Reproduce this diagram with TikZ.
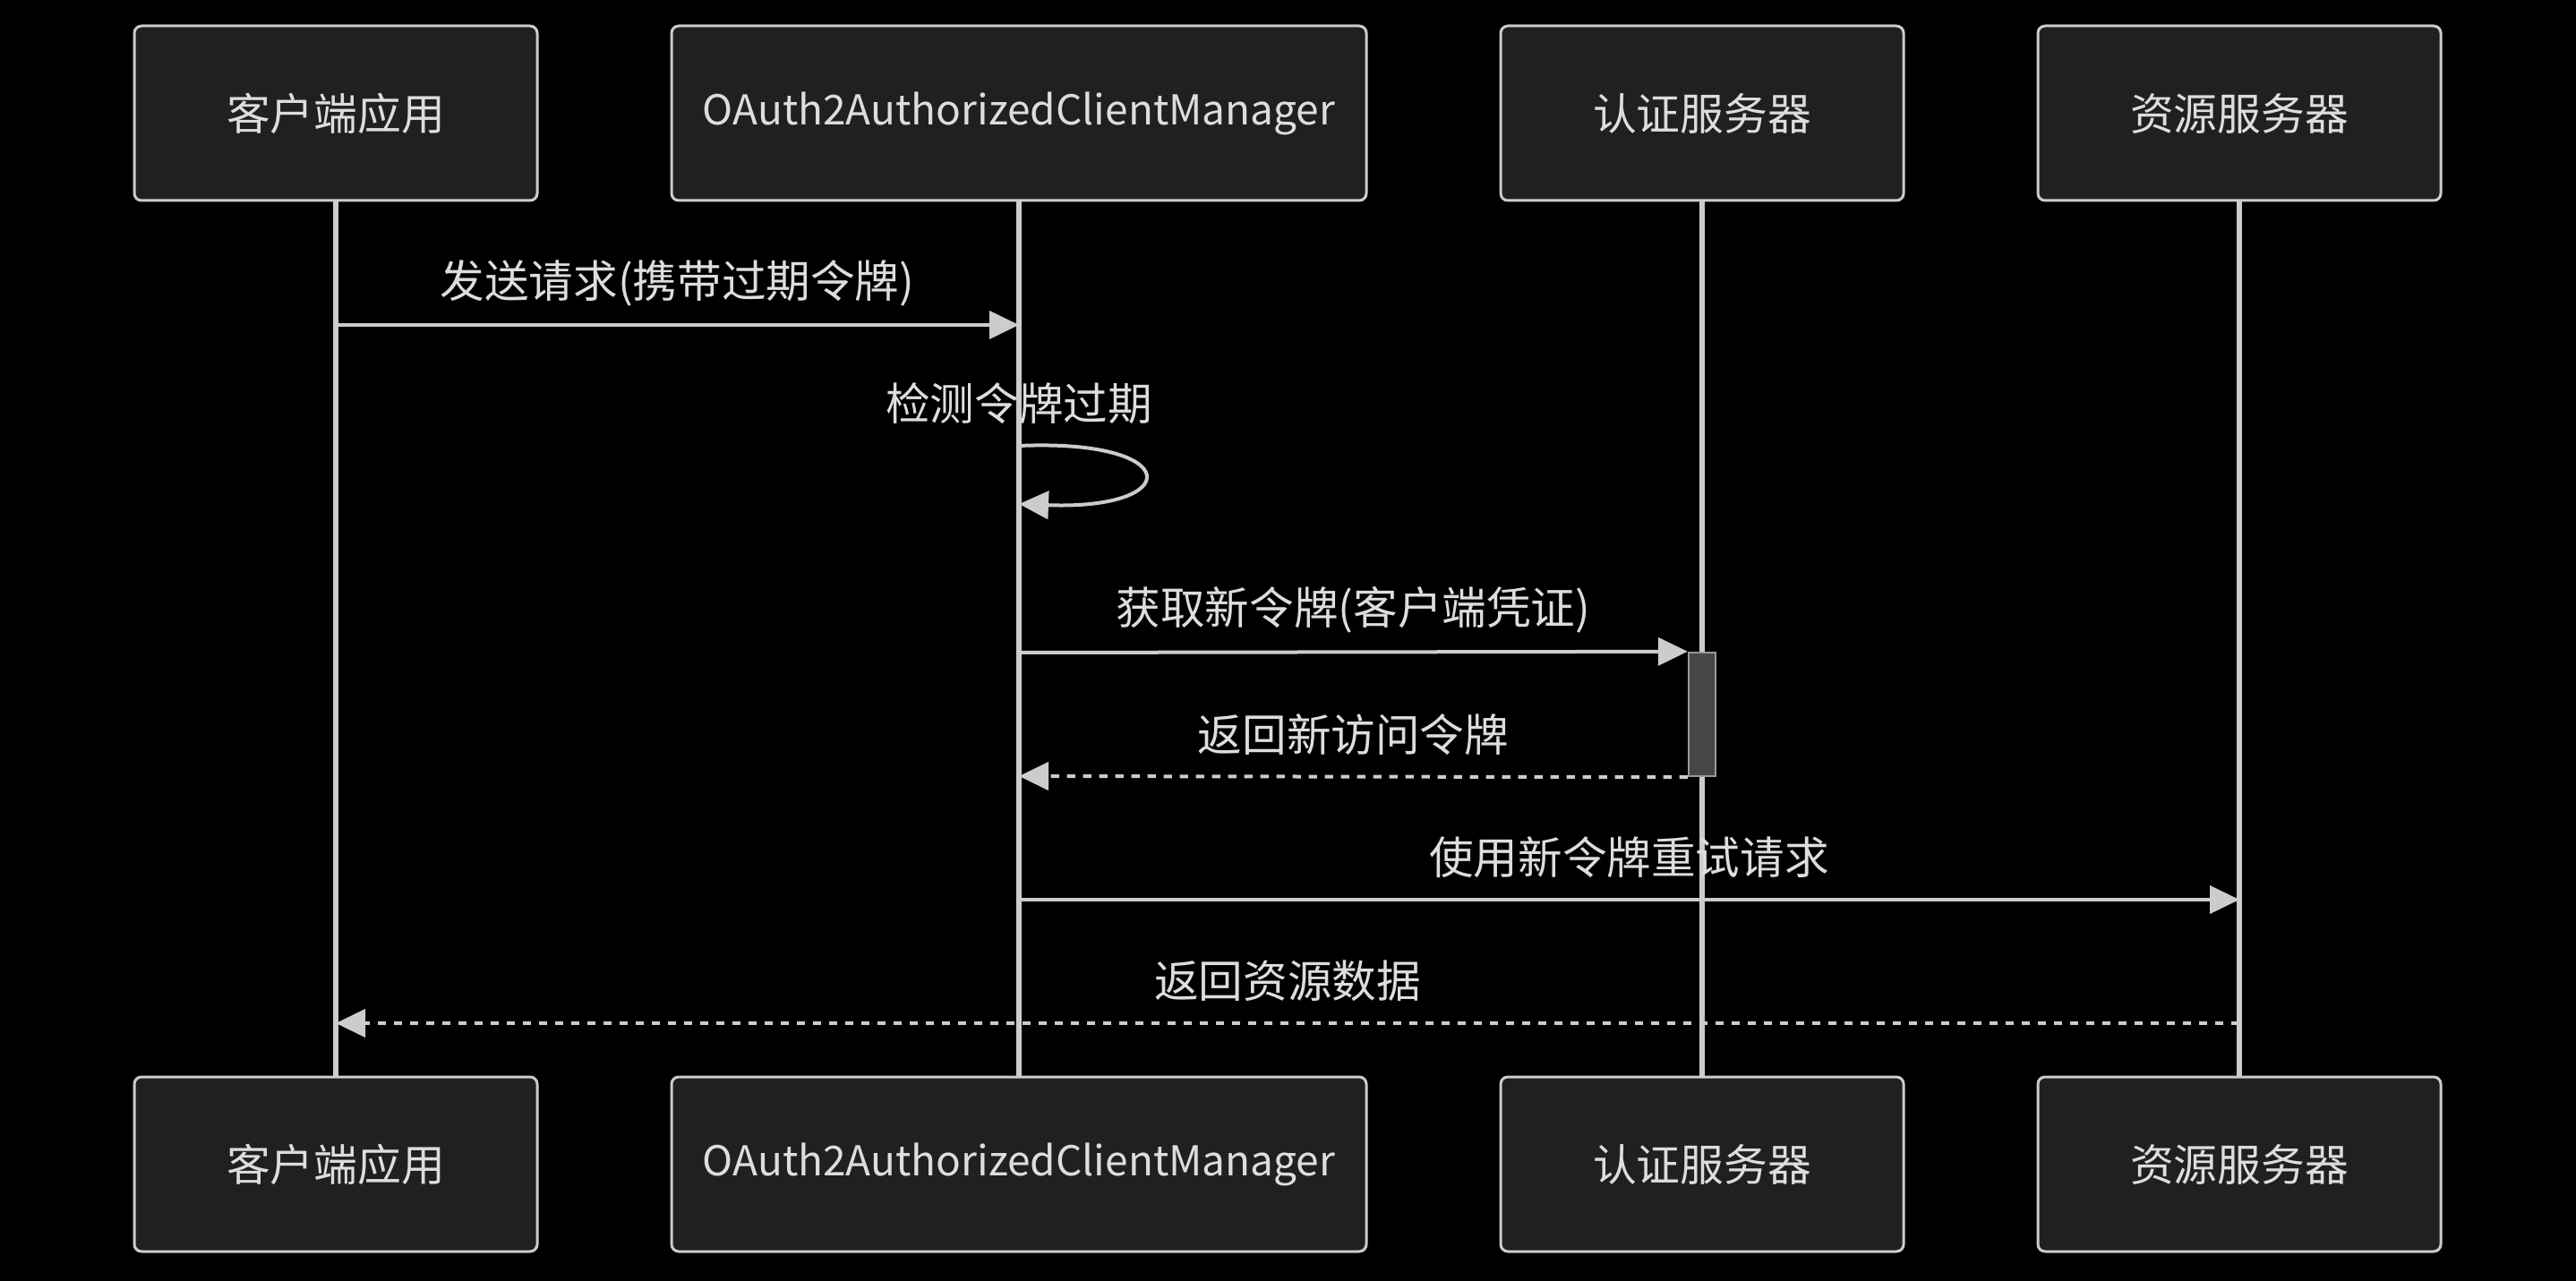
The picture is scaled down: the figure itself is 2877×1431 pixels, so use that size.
\documentclass[tikz,border=0pt]{standalone}
\usepackage{fontspec}
\setmainfont{Noto Sans CJK SC}
\usetikzlibrary{positioning,arrows.meta}
\definecolor{linegray}{HTML}{CCCCCC}
\definecolor{boxgray}{HTML}{1F2020}
\definecolor{txtgray}{HTML}{DDDDDD}
\definecolor{actgray}{HTML}{474747}
\definecolor{actline}{HTML}{999999}
\begin{document}
\begin{tikzpicture}[x=0.25pt, y=-0.25pt]
    \tikzset{
      actor/.style = {draw=linegray, fill=boxgray, rounded corners=2pt,
      line width=0.75pt, minimum width=112.5pt, minimum height=48.75pt,
      text=txtgray, font=\fontsize{12.2}{14}\selectfont},
      life/.style = {draw=linegray, line width=1.5pt},
      msg/.style = {draw=linegray, line width=1pt,
      -{Triangle[length=8.25pt, width=7.75pt]}},
      reply/.style = {msg, dash pattern=on 2.3pt off 2.2pt},
      lbl/.style = {text=txtgray, font=\fontsize{12.4}{14}\selectfont},
      act/.style = {draw=actline, fill=actgray, line width=0.6pt,
      minimum width=7.5pt, minimum height=34.5pt, inner sep=0pt}
    }
    \fill[black] (0,0) rectangle (2877,1431);
    \useasboundingbox (0,0) rectangle (2877,1431);

    % participants, top row
    \node[actor] (cli) at (375,126.5) {客户端应用};
    \node[actor, minimum width=194pt, font=\fontsize{11.5}{14}\selectfont,
      right=36.75pt of cli] (mgr) {OAuth2AuthorizedClientManager};
    \node[actor, right=36.75pt of mgr] (auth) {认证服务器};
    \node[actor, right=36.75pt of auth] (res) {资源服务器};

    % participants, bottom row
    \node[actor, below=244pt of cli] (cli') {客户端应用};
    \node[actor, minimum width=194pt, font=\fontsize{11.5}{14}\selectfont,
      below=244pt of mgr] (mgr') {OAuth2AuthorizedClientManager};
    \node[actor, below=244pt of auth] (auth') {认证服务器};
    \node[actor, below=244pt of res] (res') {资源服务器};

    \draw[life]
      (cli) edge (cli')
      (mgr) edge (mgr')
      (auth) edge (auth')
      (res) edge (res')
    ;

    \coordinate (m1a) at (cli |- 0,363);
    \coordinate (m1b) at (mgr |- 0,363);
    \coordinate (l1) at (mgr |- 0,498);
    \coordinate (l2) at (mgr |- 0,563);
    \coordinate (m3a) at (mgr |- 0,729);
    \coordinate (m4b) at (mgr |- 0,867);
    \coordinate (m5a) at (mgr |- 0,1005);
    \coordinate (m5b) at (res |- 0,1005);
    \coordinate (m6a) at (res |- 0,1143);
    \coordinate (m6b) at (cli |- 0,1143);

    \node[act] (tok) at (auth |- 0,798) {};

    \draw[msg] (m1a) -- node[lbl, midway, yshift=11.75pt] (t1) {发送请求(携带过期令牌)} (m1b);

    \node[lbl] (t2) at (mgr |- 0,451) {检测令牌过期};
    \draw[msg] (l1) .. controls (1323,490) and (1323,570) .. (l2);

    \draw[msg] (m3a) -- node[lbl, midway, yshift=11.75pt] (t3) {获取新令牌(客户端凭证)} (tok.north west);
    \draw[reply] (tok.south west) -- node[lbl, midway, yshift=11.75pt] (t4) {返回新访问令牌} (m4b);

    \draw[msg] (m5a) -- node[lbl, midway, yshift=11.75pt] (t5) {使用新令牌重试请求} (m5b);
    \draw[reply] (m6a) -- node[lbl, midway, yshift=11.75pt] (t6) {返回资源数据} (m6b);
  \end{tikzpicture}
\end{document}
